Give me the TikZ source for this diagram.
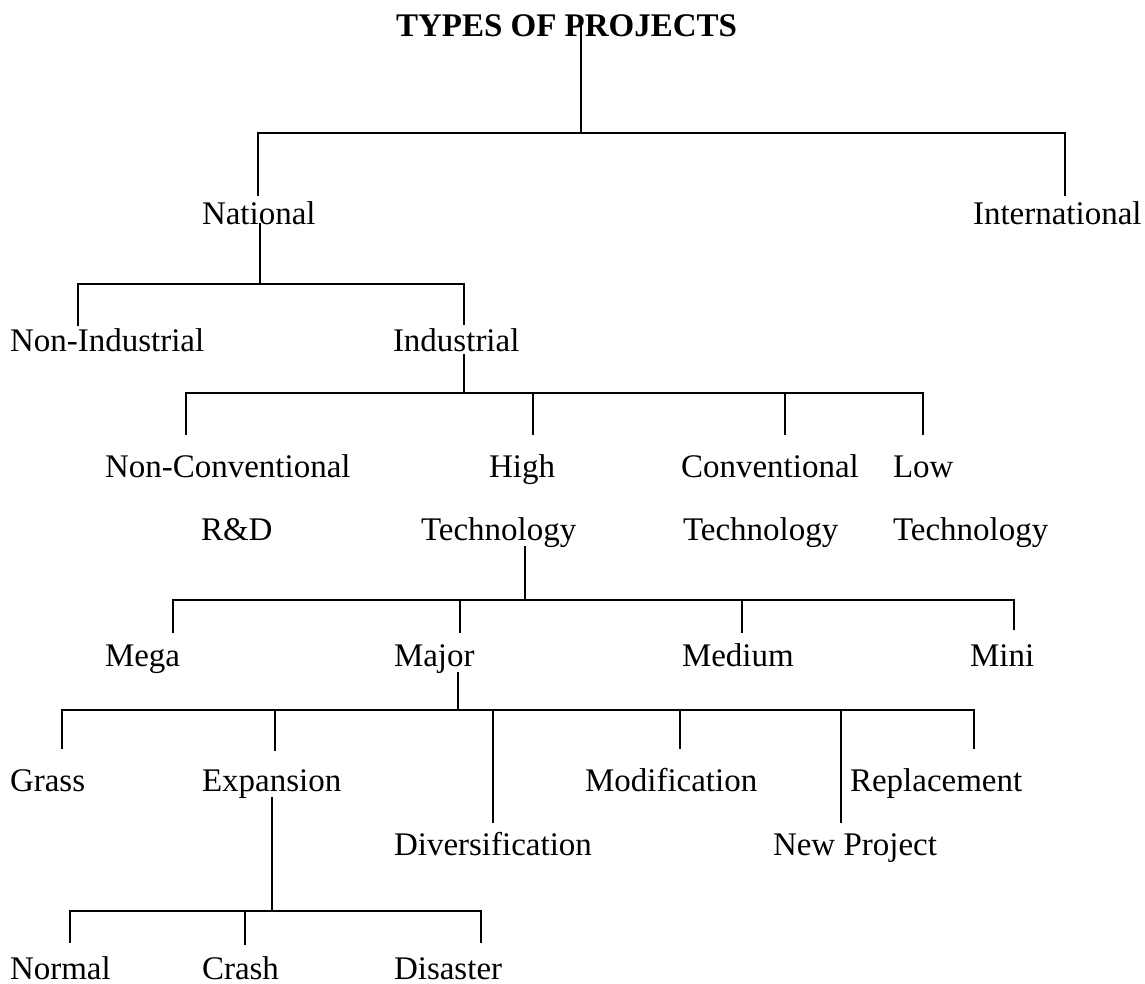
\documentclass[tikz,border=0pt]{standalone}
\usepackage{fontspec}
\setmainfont{Liberation Serif}
\begin{document}
\begin{tikzpicture}[x=1pt,y=-1pt,
  lbl/.style={anchor=base west,inner sep=0pt,outer sep=0pt,font=\fontsize{33}{40}\selectfont},
  ttl/.style={anchor=base west,inner sep=0pt,outer sep=0pt,font=\fontsize{33}{40}\selectfont\bfseries},
  conn/.style={line width=1.5pt,line cap=rect},
  thick conn/.style={line width=2.6pt}]
\useasboundingbox (0,0) rectangle (1145,984);
% ---- texts
\node[ttl] (title) at (396,37) {TYPES OF PROJECTS};
\node[lbl] (nat) at (202,225) {National};
\node[lbl] (intl) at (973,225) {International};
\node[lbl] (nonind) at (10,351) {Non-Industrial};
\node[lbl] (ind) at (393,351) {Industrial};
\node[lbl] (nonconv) at (105,477) {Non-Conventional};
\node[lbl] (nonconvb) at (201,540) {R\&D};
\node[lbl] (high) at (489,477) {High};
\node[lbl] (highb) at (421,540) {Technology};
\node[lbl] (conv) at (681,477) {Conventional};
\node[lbl] (convb) at (683,540) {Technology};
\node[lbl] (low) at (893,477) {Low};
\node[lbl] (lowb) at (893,540) {Technology};
\node[lbl] (mega) at (105,666) {Mega};
\node[lbl] (major) at (394,666) {Major};
\node[lbl] (medium) at (682,666) {Medium};
\node[lbl] (mini) at (970,666) {Mini};
\node[lbl] (grass) at (10,791) {Grass};
\node[lbl] (expan) at (202,791) {Expansion};
\node[lbl] (modif) at (585,791) {Modification};
\node[lbl] (repl) at (850,791) {Replacement};
\node[lbl] (divers) at (394,855) {Diversification};
\node[lbl] (newp) at (773,855) {New Project};
\node[lbl] (normal) at (10,979) {Normal};
\node[lbl] (crash) at (202,979) {Crash};
\node[lbl] (disaster) at (394,979) {Disaster};
% ---- junction coordinates
% level 1
\coordinate (t-top) at (581,25);   \coordinate (t-bus) at (581,133);
\coordinate (nat-bus) at (258,133); \coordinate (nat-end) at (258,195);
\coordinate (intl-bus) at (1065,133); \coordinate (intl-end) at (1065,195);
% level 2
\coordinate (n-top) at (260,224);  \coordinate (n-bus) at (260,284);
\coordinate (nonind-bus) at (78,284); \coordinate (nonind-end) at (78,325);
\coordinate (ind-bus) at (464,284); \coordinate (ind-end) at (464,324);
% level 3
\coordinate (i-top) at (464,355);  \coordinate (i-bus) at (464,393);
\coordinate (nonconv-bus) at (186,393); \coordinate (nonconv-end) at (186,434);
\coordinate (high-bus) at (533,393); \coordinate (high-end) at (533,434);
\coordinate (conv-bus) at (785,393); \coordinate (conv-end) at (785,434);
\coordinate (low-bus) at (923,393); \coordinate (low-end) at (923,434);
% level 4
\coordinate (h-top) at (525,547);  \coordinate (h-bus) at (525,600);
\coordinate (mega-bus) at (173,600); \coordinate (mega-end) at (173,632);
\coordinate (major-bus) at (460,600); \coordinate (major-end) at (460,632);
\coordinate (medium-bus) at (742,600); \coordinate (medium-end) at (742,632);
\coordinate (mini-bus) at (1014,600); \coordinate (mini-end) at (1014,629);
% level 5
\coordinate (m-top) at (458,673);  \coordinate (m-bus) at (458,710);
\coordinate (grass-bus) at (62,710); \coordinate (grass-end) at (62,748);
\coordinate (expan-bus) at (275,710); \coordinate (expan-end) at (275,750);
\coordinate (divers-bus) at (493,710); \coordinate (divers-end) at (493,822);
\coordinate (modif-bus) at (680,710); \coordinate (modif-end) at (680,748);
\coordinate (newp-bus) at (841,710); \coordinate (newp-end) at (841,822);
\coordinate (repl-bus) at (974,710); \coordinate (repl-end) at (974,748);
% level 6
\coordinate (e-top) at (272,798);  \coordinate (e-bus) at (272,911);
\coordinate (normal-bus) at (70,911); \coordinate (normal-end) at (70,942);
\coordinate (crash-bus) at (245,911); \coordinate (crash-end) at (245,944);
\coordinate (disaster-bus) at (481,911); \coordinate (disaster-end) at (481,942);
% ---- connectors
\draw[conn] (t-top) -- (t-bus);
\draw[conn] (nat-end) -- (nat-bus) -- (intl-bus) -- (intl-end);
\draw[conn] (n-top) -- (n-bus);
\draw[conn] (nonind-end) -- (nonind-bus) -- (ind-bus) -- (ind-end);
\draw[conn] (i-top) -- (i-bus);
\draw[conn] (nonconv-end) -- (nonconv-bus) -- (low-bus) -- (low-end);
\draw[conn] (high-bus) -- (high-end);
\draw[conn] (conv-bus) -- (conv-end);
\draw[conn] (h-top) -- (h-bus);
\draw[conn] (mega-end) -- (mega-bus) -- (mini-bus) -- (mini-end);
\draw[conn] (major-bus) -- (major-end);
\draw[conn] (medium-bus) -- (medium-end);
\draw[conn] (m-top) -- (m-bus);
\draw[conn] (grass-end) -- (grass-bus) -- (repl-bus) -- (repl-end);
\draw[conn] (expan-bus) -- (expan-end);
\draw[conn] (divers-bus) -- (divers-end);
\draw[conn] (modif-bus) -- (modif-end);
\draw[conn,thick conn] (newp-bus) -- (newp-end);
\draw[conn] (e-top) -- (e-bus);
\draw[conn] (normal-end) -- (normal-bus) -- (disaster-bus) -- (disaster-end);
\draw[conn] (crash-bus) -- (crash-end);
\end{tikzpicture}
\end{document}
